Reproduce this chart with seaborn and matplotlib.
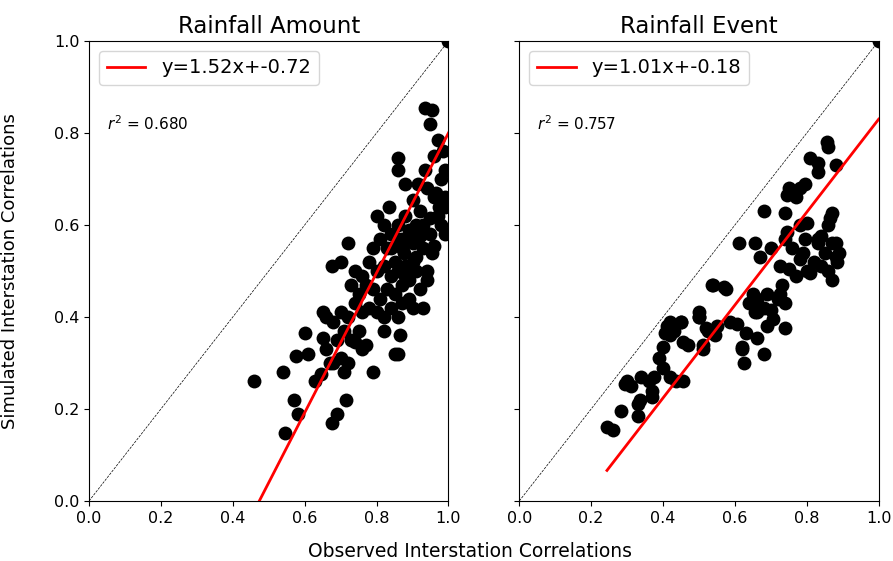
import numpy as np
import pandas as pd
import matplotlib
matplotlib.use("Agg")
import matplotlib.pyplot as plt
import seaborn as sns

# rainfall amount: observed vs simulated interstation correlations
amount_obs = [0.935, 0.955, 0.95, 0.97, 0.96, 0.985, 0.99, 0.98, 0.86, 0.86, 0.88, 0.915,
              0.90, 0.935, 0.94, 0.965, 0.99, 0.975, 0.92, 0.95, 0.98, 0.99, 0.96, 0.955,
              0.80, 0.82, 0.835, 0.84, 0.81, 0.79, 0.83, 0.86, 0.87, 0.88, 0.89, 0.90,
              0.91, 0.92, 0.93, 0.875, 0.85, 0.86, 0.88, 0.90, 0.91, 0.89, 0.87, 0.84,
              0.82, 0.80, 0.78, 0.76, 0.74, 0.72, 0.70, 0.675, 0.73, 0.75, 0.77, 0.79,
              0.81, 0.83, 0.85, 0.87, 0.89, 0.90, 0.92, 0.94, 0.93, 0.86, 0.84, 0.82,
              0.80, 0.78, 0.76, 0.74, 0.72, 0.70, 0.68, 0.65, 0.66, 0.71, 0.73, 0.75,
              0.77, 0.74, 0.76, 0.82, 0.85, 0.86, 0.865, 0.79, 0.71, 0.715, 0.69, 0.675,
              0.645, 0.63, 0.65, 0.61, 0.60, 0.575, 0.57, 0.58, 0.545, 0.54, 0.46, 0.68,
              0.70, 0.72, 0.66, 0.69, 0.67,
              0.87, 0.90, 0.93, 0.95, 0.97, 0.99, 0.88, 0.91, 0.94, 0.84, 0.86, 0.96,
              1.0]
amount_sim = [0.855, 0.85, 0.82, 0.785, 0.75, 0.76, 0.72, 0.70, 0.745, 0.72, 0.69, 0.69,
              0.655, 0.72, 0.68, 0.67, 0.66, 0.64, 0.63, 0.615, 0.60, 0.58, 0.555, 0.54,
              0.62, 0.60, 0.64, 0.58, 0.57, 0.55, 0.55, 0.60, 0.57, 0.62, 0.59, 0.56,
              0.60, 0.575, 0.55, 0.54, 0.52, 0.50, 0.51, 0.52, 0.50, 0.48, 0.47, 0.49,
              0.51, 0.50, 0.52, 0.49, 0.50, 0.56, 0.52, 0.51, 0.47, 0.45, 0.47, 0.46,
              0.44, 0.46, 0.45, 0.43, 0.44, 0.42, 0.46, 0.48, 0.42, 0.40, 0.42, 0.40,
              0.41, 0.42, 0.41, 0.43, 0.40, 0.41, 0.39, 0.41, 0.40, 0.37, 0.35, 0.37,
              0.34, 0.345, 0.33, 0.37, 0.32, 0.32, 0.36, 0.28, 0.28, 0.22, 0.19, 0.17,
              0.275, 0.26, 0.355, 0.32, 0.365, 0.315, 0.22, 0.19, 0.147, 0.28, 0.26, 0.30,
              0.31, 0.30, 0.33, 0.35, 0.30,
              0.55, 0.58, 0.60, 0.58, 0.62, 0.64, 0.49, 0.53, 0.50, 0.55, 0.57, 0.66,
              1.0]

# rainfall event
event_obs = [0.244, 0.26, 0.283, 0.294, 0.30, 0.31, 0.34, 0.36, 0.375, 0.336, 0.37,
             0.39, 0.40, 0.41, 0.42, 0.43, 0.45, 0.455, 0.47, 0.435, 0.455, 0.50, 0.51,
             0.535, 0.575, 0.525, 0.55, 0.61, 0.62, 0.625, 0.655, 0.66, 0.68, 0.68,
             0.655, 0.74, 0.75, 0.745, 0.78, 0.77, 0.795, 0.83, 0.81, 0.83, 0.855,
             0.86, 0.88, 0.87, 0.865, 0.80, 0.745, 0.74, 0.795, 0.84, 0.88, 0.83, 0.70,
             0.67, 0.725, 0.75, 0.78, 0.81, 0.84, 0.88, 0.87, 0.73, 0.54, 0.57, 0.65,
             0.69, 0.725, 0.74, 0.64, 0.66, 0.70, 0.705, 0.69, 0.74, 0.50, 0.605, 0.585,
             0.63, 0.66, 0.52, 0.545, 0.51, 0.62, 0.33, 0.33, 0.37, 0.40, 0.42, 0.405,
             0.42, 0.45, 0.50, 0.885, 0.89, 0.86,
             0.76, 0.79, 0.82, 0.85, 0.87, 0.80, 0.77, 0.83, 0.86, 0.78, 0.72, 0.68,
             1.0]
event_sim = [0.16, 0.155, 0.195, 0.255, 0.26, 0.25, 0.27, 0.26, 0.27, 0.22, 0.225,
             0.31, 0.335, 0.38, 0.36, 0.37, 0.39, 0.345, 0.34, 0.26, 0.26, 0.40, 0.34,
             0.47, 0.46, 0.37, 0.38, 0.56, 0.33, 0.30, 0.41, 0.44, 0.32, 0.63,
             0.56, 0.625, 0.68, 0.665, 0.68, 0.66, 0.69, 0.715, 0.745, 0.735, 0.78,
             0.77, 0.73, 0.625, 0.615, 0.605, 0.585, 0.57, 0.57, 0.575, 0.56, 0.56, 0.55,
             0.53, 0.51, 0.505, 0.525, 0.495, 0.51, 0.53, 0.48, 0.47, 0.47, 0.465, 0.45,
             0.45, 0.45, 0.43, 0.43, 0.41, 0.415, 0.395, 0.38, 0.375, 0.40, 0.385, 0.39,
             0.365, 0.355, 0.375, 0.36, 0.33, 0.335, 0.21, 0.185, 0.24, 0.29, 0.27, 0.365,
             0.39, 0.39, 0.41, 0.52, 0.54, 0.50,
             0.55, 0.54, 0.52, 0.54, 0.56, 0.50, 0.49, 0.57, 0.60, 0.60, 0.44, 0.42,
             1.0]

titles = ["Rainfall Amount", "Rainfall Event"]
slopes = [1.52, 1.01]
intercepts = [-0.72, -0.18]
r2_vals = [0.680, 0.757]

amount = pd.DataFrame({"obs": amount_obs, "sim": amount_sim})
event = pd.DataFrame({"obs": event_obs, "sim": event_sim})

fig, axes = plt.subplots(1, 2, figsize=(8.93, 5.61), dpi=100, sharey=True)
fig.subplots_adjust(left=0.0997, right=0.984, top=0.927, bottom=0.107, wspace=0.197)

for ax, df, title, m, b, r2 in zip(axes, [amount, event], titles, slopes, intercepts, r2_vals):
    ax.axline((0, 0), slope=1, color="black", ls="--", lw=0.5, zorder=1)
    sns.scatterplot(data=df, x="obs", y="sim", color="black", edgecolor="black",
                    s=100, linewidth=0, ax=ax, zorder=2)
    xs = np.linspace(df.obs.min(), df.obs.max(), 50)
    sns.lineplot(x=xs, y=m * xs + b, color="red", lw=2,
                 label="y={:.2f}x+{:.2f}".format(m, b), ax=ax, zorder=3)
    ax.set_xlim(0, 1)
    ax.set_ylim(0, 1)
    ax.set_title(title, fontsize=16.5)
    ax.set_xlabel("")
    ax.set_ylabel("")
    ax.tick_params(labelsize=11.5)
    ax.legend(loc="upper left", fontsize=14, handlelength=2)
    ax.text(0.05, 0.82, "$r^2$ = {:.3f}".format(r2), transform=ax.transAxes,
            fontsize=11, va="center")

axes[0].set_ylabel("Simulated Interstation Correlations", fontsize=13)
axes[0].yaxis.set_label_coords(-0.195, 0.5)
fig.text(0.526, 0.008, "Observed Interstation Correlations", ha="center", fontsize=13.5)

plt.savefig("out.png", dpi=100)
